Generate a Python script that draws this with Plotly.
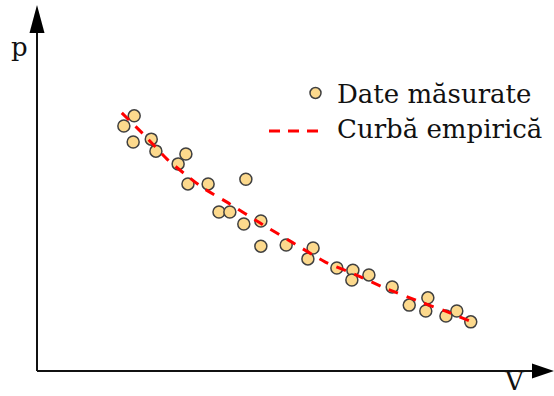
import plotly.graph_objects as go

# ---- data (arbitrary units) ----
V_measured = [16.8, 18.8, 18.6, 22.1, 23.0, 27.3, 28.8, 29.2, 33.1, 35.2,
              37.3, 40.4, 40.0, 43.3, 43.3, 48.2, 53.4, 52.4, 58.0, 61.1,
              60.9, 64.2, 68.7, 72.0, 75.6, 75.2, 79.1, 81.2, 83.9]
p_measured = [67.3, 70.1, 62.9, 63.7, 60.4, 56.9, 59.6, 51.4, 51.4, 43.7,
              43.7, 52.7, 40.4, 41.2, 34.3, 34.6, 33.8, 30.8, 28.3, 27.7,
              25.0, 26.4, 23.1, 18.1, 20.1, 16.5, 15.1, 16.5, 13.5]

V_curve = [16.4, 20.9, 25.3, 28.6, 32.1, 37.3, 43.1, 49.3, 55.7, 61.7,
           67.3, 74.1, 78.9, 83.8]
p_curve = [70.9, 64.6, 58.0, 54.1, 50.3, 45.9, 40.7, 35.4, 30.0, 26.4,
           22.8, 19.0, 16.5, 13.7]

x_label = "V"
y_label = "p"
series_names = ["Date măsurate", "Curbă empirică"]

# ---- style ----
W, H = 554, 396
ML, MR, MT, MB = 37, 0, 7, 25
FONT = "DejaVu Serif"
FS = 26
MARKER_FILL = "#FCD98D"
MARKER_EDGE = "#404040"
LINE_COLOR = "#FF0000"
AXIS_COLOR = "#111111"
DASH = "10px,9px"

PW, PH = W - ML - MR, H - MT - MB


def px_x(px):
    return (px - ML) / PW


def px_y(py):
    return (H - MB - py) / PH


fig = go.Figure()
fig.add_trace(go.Scatter(
    x=V_measured, y=p_measured, mode="markers", name=series_names[0],
    marker=dict(size=12, color=MARKER_FILL,
                line=dict(color=MARKER_EDGE, width=1.5)),
    cliponaxis=False, showlegend=False))
fig.add_trace(go.Scatter(
    x=V_curve, y=p_curve, mode="lines", name=series_names[1],
    line=dict(color=LINE_COLOR, width=3, dash=DASH, shape="spline",
              smoothing=0.6),
    showlegend=False))

shapes = []
# axes lines
shapes.append(dict(type="line", xref="paper", yref="paper",
                   x0=0, y0=0, x1=0, y1=px_y(30),
                   line=dict(color=AXIS_COLOR, width=2)))
shapes.append(dict(type="line", xref="paper", yref="paper",
                   x0=0, y0=0, x1=px_x(535), y1=0,
                   line=dict(color=AXIS_COLOR, width=2)))
# arrow heads
shapes.append(dict(type="path", xref="paper", yref="paper",
                   path=f"M {px_x(37)} {px_y(5)} L {px_x(29.5)} {px_y(33)} "
                        f"L {px_x(44.5)} {px_y(33)} Z",
                   fillcolor="#000000", line=dict(width=0)))
shapes.append(dict(type="path", xref="paper", yref="paper",
                   path=f"M {px_x(554)} {px_y(371)} L {px_x(532)} {px_y(363.5)} "
                        f"L {px_x(532)} {px_y(378.5)} Z",
                   fillcolor="#000000", line=dict(width=0)))
# legend symbols
shapes.append(dict(type="circle", xref="paper", yref="paper",
                   x0=px_x(310), x1=px_x(321), y0=px_y(98.5), y1=px_y(87.5),
                   fillcolor=MARKER_FILL,
                   line=dict(color=MARKER_EDGE, width=1.5)))
shapes.append(dict(type="line", xref="paper", yref="paper",
                   x0=px_x(269), x1=px_x(318), y0=px_y(131), y1=px_y(131),
                   line=dict(color=LINE_COLOR, width=3, dash="11px,8px")))

annotations = [
    dict(text=y_label, xref="paper", yref="paper", x=px_x(19), y=px_y(47),
         showarrow=False, xanchor="center", yanchor="middle",
         font=dict(family=FONT, size=FS, color="#111111")),
    dict(text=x_label, xref="paper", yref="paper", x=px_x(514), y=px_y(381),
         showarrow=False, xanchor="center", yanchor="middle",
         font=dict(family=FONT, size=FS, color="#111111")),
    dict(text=series_names[0], xref="paper", yref="paper", x=px_x(335),
         y=px_y(94), showarrow=False, xanchor="left", yanchor="middle",
         font=dict(family=FONT, size=FS, color="#111111")),
    dict(text=series_names[1], xref="paper", yref="paper", x=px_x(335),
         y=px_y(129), showarrow=False, xanchor="left", yanchor="middle",
         font=dict(family=FONT, size=FS, color="#111111")),
]

fig.update_layout(
    width=W, height=H,
    margin=dict(l=ML, r=MR, t=MT, b=MB),
    paper_bgcolor="white", plot_bgcolor="white",
    xaxis=dict(range=[0, 100], visible=False, fixedrange=True),
    yaxis=dict(range=[0, 100], visible=False, fixedrange=True),
    shapes=shapes, annotations=annotations, showlegend=False,
)

fig.write_html("out.html",
               config={"displayModeBar": False},
               post_script="document.body.style.margin='0';"
                           "document.body.style.overflow='hidden';")
